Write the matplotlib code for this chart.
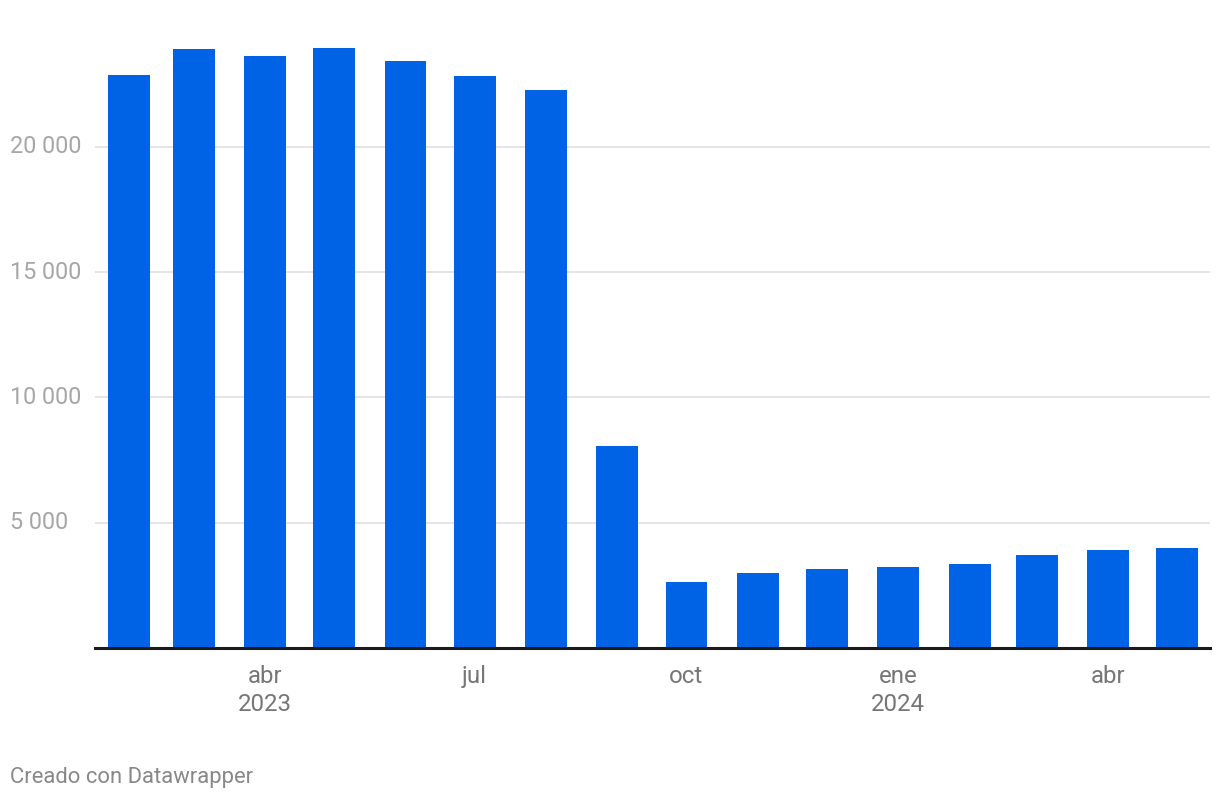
import matplotlib.pyplot as plt
import matplotlib.dates as mdates
import matplotlib.transforms as mtransforms
import numpy as np
import datetime as dt

plt.rcParams['font.family'] = ['Roboto', 'DejaVu Sans']

# monthly values, feb 2023 - may 2024
months = ["2023-02", "2023-03", "2023-04", "2023-05", "2023-06", "2023-07",
          "2023-08", "2023-09", "2023-10", "2023-11", "2023-12", "2024-01",
          "2024-02", "2024-03", "2024-04", "2024-05"]
values = [22870, 23900, 23620, 23940, 23420, 22830, 22270, 8060,
          2630, 2990, 3150, 3230, 3350, 3710, 3910, 3990]

tick_months = ["2023-04", "2023-07", "2023-10", "2024-01", "2024-04"]
tick_labels = ["abr\n2023", "jul", "oct", "ene\n2024", "abr"]
y_ticks = [5000, 10000, 15000, 20000]

def to_date(s):
    y, m = s.split("-")
    return dt.date(int(y), int(m), 1)

dates = [to_date(m) for m in months]
xs = mdates.date2num(dates)

fig = plt.figure(figsize=(12.2, 8), dpi=100)
ax = fig.add_axes([95 / 1220, 152 / 800, 1115 / 1220, 614 / 800])

ax.bar(xs, values, width=18.2, color="#0062E5", zorder=2)

ax.set_xlim(xs[0] - 14.8, xs[-1] + 14.3)
ax.set_ylim(0, 24500)

for v in y_ticks:
    ax.axhline(v, color="#e3e3e3", lw=1.3, zorder=1)
ax.axhline(0, color="#1a1a1a", lw=2.2, zorder=3, clip_on=False)

trans = mtransforms.blended_transform_factory(fig.transFigure, ax.transData)
for v in y_ticks:
    ax.text(10 / 1220, v, f"{v:,}".replace(",", " "), transform=trans,
            ha="left", va="center", fontsize=16.8, color="#a6a6a6")

ax.set_yticks([])
ax.set_xticks(mdates.date2num([to_date(m) for m in tick_months]))
ax.set_xticklabels(tick_labels, fontsize=17.3, color="#767676", linespacing=1.32)
ax.tick_params(axis="x", length=0, pad=12)

for s in ax.spines.values():
    s.set_visible(False)

fig.text(10 / 1220, 1 - 778 / 800, "Creado con Datawrapper", ha="left", va="center",
         fontsize=15.8, color="#888888")

fig.savefig("out.png", dpi=100, facecolor="white")
